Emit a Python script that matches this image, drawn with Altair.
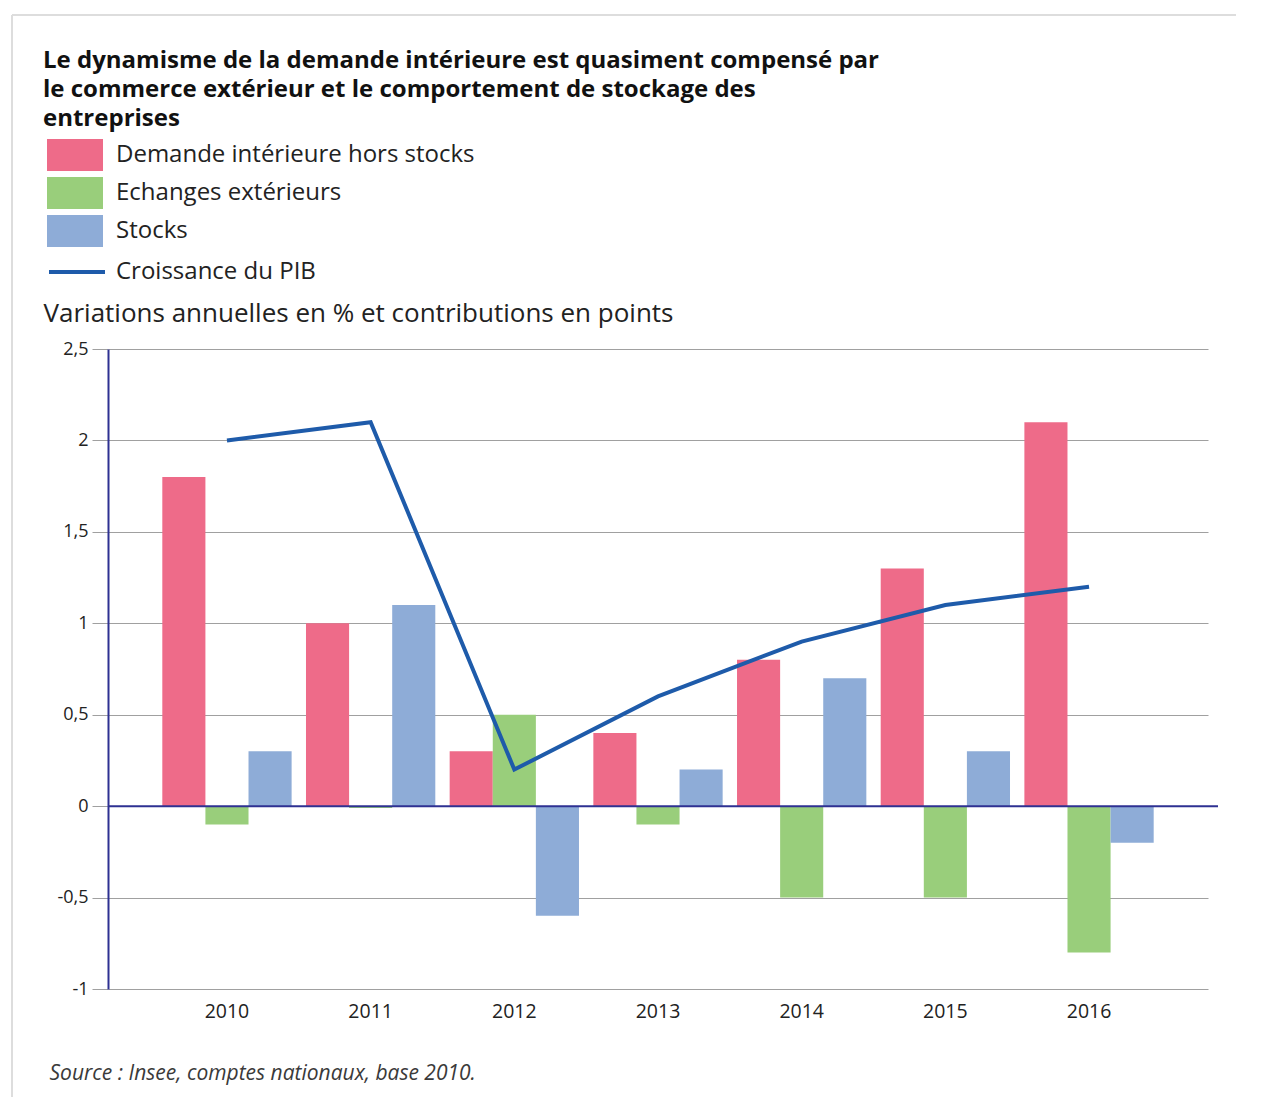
import altair as alt
import pandas as pd

years = ["2010", "2011", "2012", "2013", "2014", "2015", "2016"]
demande = [1.8, 1.0, 0.3, 0.4, 0.8, 1.3, 2.1]
echanges = [-0.1, -0.01, 0.5, -0.1, -0.5, -0.5, -0.8]
stocks = [0.3, 1.1, -0.6, 0.2, 0.7, 0.3, -0.2]
pib = [2.0, 2.1, 0.2, 0.6, 0.9, 1.1, 1.2]

series = ["Demande intérieure hors stocks", "Echanges extérieurs", "Stocks"]
colors = ["#EE6B89", "#99CE7B", "#8EACD7"]
line_name = "Croissance du PIB"
line_color = "#1E5BAA"
axis_color = "#2E3192"
grid_color = "#A0A0A0"

title_lines = [
    "Le dynamisme de la demande intérieure est quasiment compensé par",
    "le commerce extérieur et le comportement de stockage des",
    "entreprises",
]
y_title = "Variations annuelles en % et contributions en points"
source = "Source : Insee, comptes nationaux, base 2010."

rows = []
for name, vals in zip(series, [demande, echanges, stocks]):
    for y, v in zip(years, vals):
        rows.append({"year": y, "series": name, "value": v})
bars_df = pd.DataFrame(rows)
line_df = pd.DataFrame({"year": years, "value": pib, "name": [line_name] * len(years)})
zero_df = pd.DataFrame({"v": [0]})

W, H = 1100, 640
FONT = "Open Sans"

x_enc = alt.X(
    "year:N",
    sort=years,
    scale=alt.Scale(paddingInner=0.1, paddingOuter=0.378),
    axis=alt.Axis(
        labelFontSize=19.5, labelColor="#222", labelFont=FONT, labelAngle=0,
        ticks=False, domain=False, labelPadding=13, grid=False,
        titleX=-59, titleY=84, titleAlign="left", titleBaseline="middle",
        titleFontSize=21, titleFontStyle="italic", titleFontWeight="normal",
        titleColor="#3a3a3a", titleFont=FONT,
    ),
    title=source,
)

y_enc = alt.Y(
    "value:Q",
    scale=alt.Scale(domain=[-1, 2.5], nice=False, zero=False),
    axis=alt.Axis(
        values=[-1, -0.5, 0, 0.5, 1, 1.5, 2, 2.5],
        labelExpr="replace(toString(datum.value), '.', ',')",
        labelFontSize=18, labelColor="#222", labelFont=FONT, labelPadding=4,
        tickSize=16, tickColor=grid_color, tickWidth=1,
        grid=True, gridColor=grid_color, gridWidth=1,
        domain=True, domainColor=axis_color, domainWidth=2,
        titleAngle=0, titleX=-65, titleY=-36, titleAlign="left", titleBaseline="middle",
        titleFontSize=26, titleFontWeight="normal", titleColor="#222", titleFont=FONT,
    ),
    title=y_title,
)

rect_path = "M-1,-0.571L1,-0.571L1,0.571L-1,0.571Z"

bars = alt.Chart(bars_df).mark_bar().encode(
    x=x_enc,
    xOffset=alt.XOffset("series:N", sort=series, scale=alt.Scale(paddingInner=0, paddingOuter=0)),
    y=y_enc,
    color=alt.Color(
        "series:N",
        sort=series,
        scale=alt.Scale(domain=series, range=colors),
        legend=alt.Legend(
            orient="none", legendX=-61, legendY=-210, title=None,
            symbolType=rect_path, symbolSize=3136, clipHeight=32, rowPadding=6,
            symbolStrokeWidth=0, symbolOpacity=1,
            labelFontSize=24, labelFont=FONT, labelColor="#222", labelOffset=13, labelLimit=0,
        ),
    ),
)

line = alt.Chart(line_df).mark_line(strokeWidth=4).encode(
    x=alt.X("year:N", sort=years),
    y=alt.Y("value:Q"),
    stroke=alt.Stroke(
        "name:N",
        scale=alt.Scale(domain=[line_name], range=[line_color]),
        legend=alt.Legend(
            orient="none", legendX=-61, legendY=-93, title=None,
            symbolType="stroke", symbolSize=3136, symbolStrokeWidth=4, clipHeight=32,
            labelFontSize=24, labelFont=FONT, labelColor="#222", labelOffset=9, labelLimit=0,
        ),
    ),
)

zero = alt.Chart(zero_df).mark_rule(color=axis_color, strokeWidth=2).encode(
    y="v:Q", x=alt.value(0), x2=alt.value(1110)
)

frame_left = alt.Chart(zero_df).mark_rule(color="#DDDDDD", strokeWidth=2).encode(
    x=alt.value(-96), y=alt.value(-334), y2=alt.value(748)
)
frame_top = alt.Chart(zero_df).mark_rule(color="#DDDDDD", strokeWidth=2).encode(
    x=alt.value(-96), x2=alt.value(1128), y=alt.value(-334)
)

chart = (
    alt.layer(frame_left, frame_top, bars, zero, line)
    .resolve_legend(color="independent", stroke="independent")
    .properties(
        width=W,
        height=H,
        padding={"left": 3, "top": 6, "right": 5, "bottom": 5},
        title=alt.Title(
            title_lines, anchor="start", font=FONT, fontSize=24, fontWeight="bold",
            color="#111", lineHeight=29, dx=32, dy=127, offset=10,
        ),
    )
    .configure(font=FONT)
    .configure_view(strokeWidth=0, stroke="transparent")
)

chart.save("out.html", embed_options={"renderer": "svg", "actions": False})
